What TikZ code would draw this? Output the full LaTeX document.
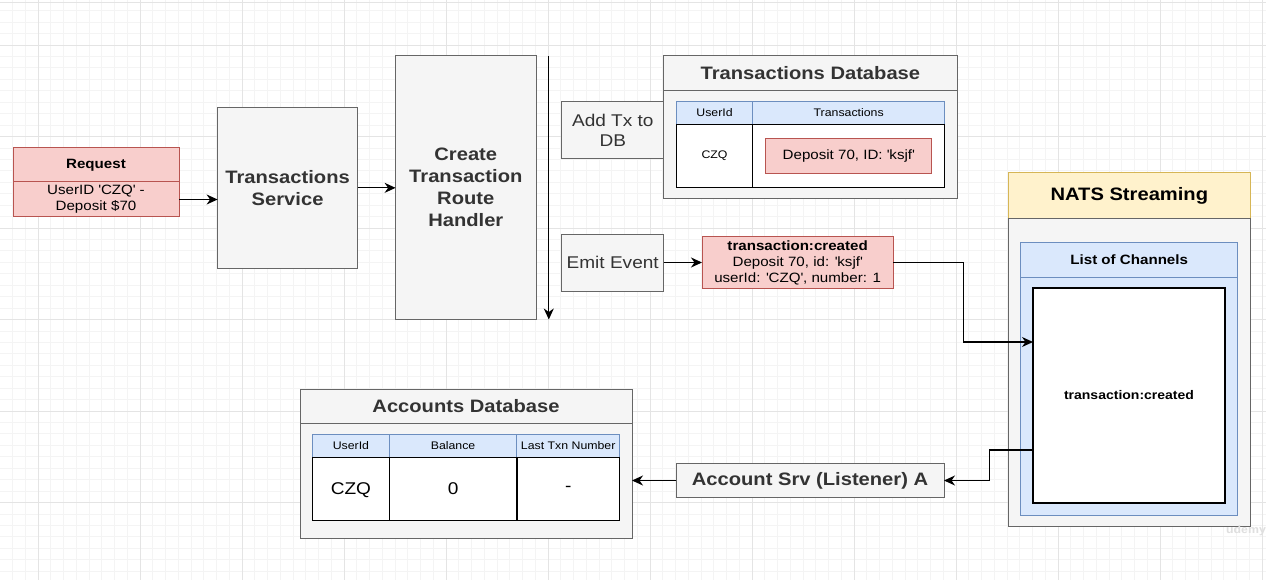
\documentclass[tikz,border=0pt]{standalone}
\usepackage{fontspec}
\setmainfont{Liberation Sans}[FakeStretch=1.12]
\usetikzlibrary{arrows.meta}
\newcommand{\sq}{\textquotesingle}
\definecolor{gfill}{HTML}{F5F5F5}
\definecolor{gline}{HTML}{666666}
\definecolor{gtext}{HTML}{333333}
\definecolor{pfill}{HTML}{F8CECC}
\definecolor{pline}{HTML}{B85450}
\definecolor{bfill}{HTML}{DAE8FC}
\definecolor{bline}{HTML}{6C8EBF}
\definecolor{yfill}{HTML}{FFF2CC}
\definecolor{yline}{HTML}{D6B656}
\definecolor{gridminor}{HTML}{F4F4F4}
\definecolor{gridmajor}{HTML}{E4E4E4}
\tikzset{
  cell/.style={rectangle, inner sep=0pt, outer sep=0pt, anchor=north west, align=center},
  graybox/.style={cell, fill=gfill, draw=gline, line width=1pt, text=gtext},
  pinkbox/.style={cell, fill=pfill, draw=pline, line width=1pt, text=black},
  bluebox/.style={cell, fill=bfill, draw=bline, line width=1pt, text=black},
  yellowbox/.style={cell, fill=yfill, draw=yline, line width=1pt, text=black},
  whitebox/.style={cell, fill=white, draw=black, line width=1.4pt, text=black},
  arr/.style={draw=black, line width=1.25pt, -{Stealth[length=11pt,width=10pt,inset=3.5pt]}},
  fbig/.style={font=\fontsize{18}{21.8}\selectfont\bfseries},
  fmid/.style={font=\fontsize{17}{20.7}\selectfont},
  fsm/.style={font=\fontsize{13.5}{16}\selectfont},
  fsmb/.style={font=\fontsize{13.5}{16}\selectfont\bfseries},
  ftiny/.style={font=\fontsize{11}{13}\selectfont},
}
\begin{document}
\begin{tikzpicture}[x=1pt,y=-1pt]
\useasboundingbox (0,0) rectangle (1266,580);
\fill[white] (0,0) rectangle (1266,580);
% grid
\foreach \i in {-3,...,97} {\draw[gridminor, line width=0.8pt] ({38+12.75*\i},0) -- ({38+12.75*\i},580);}
\foreach \j in {-3,...,47} {\draw[gridminor, line width=0.8pt] (0,{45+11.4375*\j}) -- (1266,{45+11.4375*\j});}
\foreach \i in {0,...,12} {\draw[gridmajor, line width=0.9pt] ({38+102*\i},0) -- ({38+102*\i},580);}
\foreach \j in {0,...,6} {\draw[gridmajor, line width=0.9pt] (0,{45+91.5*\j}) -- (1266,{45+91.5*\j});}
\draw[gridmajor, line width=1pt] (0,3) -- (1266,3);
\draw[gridmajor, line width=1pt] (1262,3) -- (1262,580);

% Request
\node[pinkbox, fsmb, minimum width=166pt, minimum height=34pt] (reqh) at (13,148) {Request};
\node[pinkbox, fsm, minimum width=166pt, minimum height=35pt] (reqb) at (13,182) {UserID \sq CZQ\sq\ -\\Deposit \$70};

% Transactions service and route handler
\node[graybox, fbig, minimum width=140pt, minimum height=160.3pt] (ts) at (217.6,107.7) {Transactions\\Service};
\node[graybox, fbig, minimum width=140.4pt, minimum height=263.3pt] (ctrh) at (395.6,55.7) {Create\\Transaction\\Route\\Handler};

\coordinate (vtop) at (548.8,56);
\coordinate (vbot) at (548.8,319.5);

% steps
\node[graybox, fmid, minimum width=101.8pt, minimum height=57.3pt] (addtx) at (561.9,101.7) {Add Tx to\\DB};
\node[graybox, fmid, minimum width=102pt, minimum height=57pt] (emit) at (561.7,234) {Emit Event};

% Transactions Database
\node[graybox, fbig, minimum width=293.3pt, minimum height=34.6pt] (tdbh) at (663.7,55.7) {Transactions Database};
\node[graybox, minimum width=293.3pt, minimum height=108.7pt] (tdbb) at (663.7,90.3) {};
\node[bluebox, ftiny, minimum width=76.4pt, minimum height=22.6pt] (th1) at (676.3,101.7) {UserId};
\node[bluebox, ftiny, minimum width=192pt, minimum height=22.6pt] (th2) at (752.7,101.7) {Transactions};
\node[whitebox, ftiny, minimum width=76.4pt, minimum height=63.4pt] (tb1) at (676.3,124.3) {CZQ};
\node[whitebox, minimum width=192pt, minimum height=63.4pt] (tb2) at (752.7,124.3) {};
\node[pinkbox, fsm, minimum width=166pt, minimum height=35pt] (dep) at (765.7,138.7) {Deposit 70, ID: \sq ksjf\sq};

% Event
\node[pinkbox, fsm, minimum width=191.3pt, minimum height=51.6pt] (ev) at (702,236.7) {\textbf{transaction:created}\\Deposit 70, id: \sq ksjf\sq\\userId: \sq CZQ\sq, number: 1};

% NATS
\node[yellowbox, fbig, minimum width=242.7pt, minimum height=46pt] (natsh) at (1008,173) {NATS Streaming};
\node[graybox, minimum width=242.7pt, minimum height=307pt] (natsb) at (1008,219) {};
\node[bluebox, fsmb, minimum width=217pt, minimum height=35pt] (chh) at (1020.7,242) {List of Channels};
\node[bluebox, minimum width=217pt, minimum height=238pt] (chb) at (1020.7,277) {};
\node[whitebox, font=\fontsize{12.5}{15}\selectfont\bfseries, minimum width=192pt, minimum height=215pt] (chan) at (1033,288) {transaction:created};

% Account service
\node[graybox, fbig, minimum width=268pt, minimum height=34.4pt] (acc) at (676,463.3) {Account Srv (Listener) A};

% Accounts Database
\node[graybox, fbig, minimum width=332pt, minimum height=34pt] (adbh) at (300,389) {Accounts Database};
\node[graybox, minimum width=332pt, minimum height=115pt] (adbb) at (300,423) {};
\node[bluebox, ftiny, minimum width=76.8pt, minimum height=23pt] (ah1) at (312.5,434.3) {UserId};
\node[bluebox, ftiny, minimum width=127.5pt, minimum height=23pt] (ah2) at (389.3,434.3) {Balance};
\node[bluebox, ftiny, minimum width=102.8pt, minimum height=23pt] (ah3) at (516.8,434.3) {Last Txn Number};
\node[whitebox, fmid, minimum width=76.8pt, minimum height=63pt, text depth=-2pt] (ab1) at (312.5,457.3) {CZQ};
\node[whitebox, fmid, minimum width=127.5pt, minimum height=63pt, text depth=-2pt] (ab2) at (389.3,457.3) {0};
\node[whitebox, fmid, minimum width=102.8pt, minimum height=63pt, text depth=-2pt] (ab3) at (516.8,457.3) {-};

% watermark
\node[text=gray!25, font=\fontsize{11}{13}\selectfont\bfseries] (wm) at (1246,531) {udemy};

% connectors
\draw[arr] (reqb.east) -- (reqb.east -| ts.west);
\draw[arr] (ts.east) -- (ts.east -| ctrh.west);
\draw[arr] (vtop) -- (vbot);
\draw[arr] (emit.east) -- (emit.east -| ev.west);
\coordinate (c1) at (963.3,342);
\draw[arr] (ev.east) -| (c1) -- (c1 -| chan.west);
\coordinate (c2) at (989.5,450);
\draw[arr] (c2 -| chan.west) -- (c2) |- (acc.east);
\draw[arr] (acc.west) -- (acc.west -| adbb.east);
\end{tikzpicture}
\end{document}
